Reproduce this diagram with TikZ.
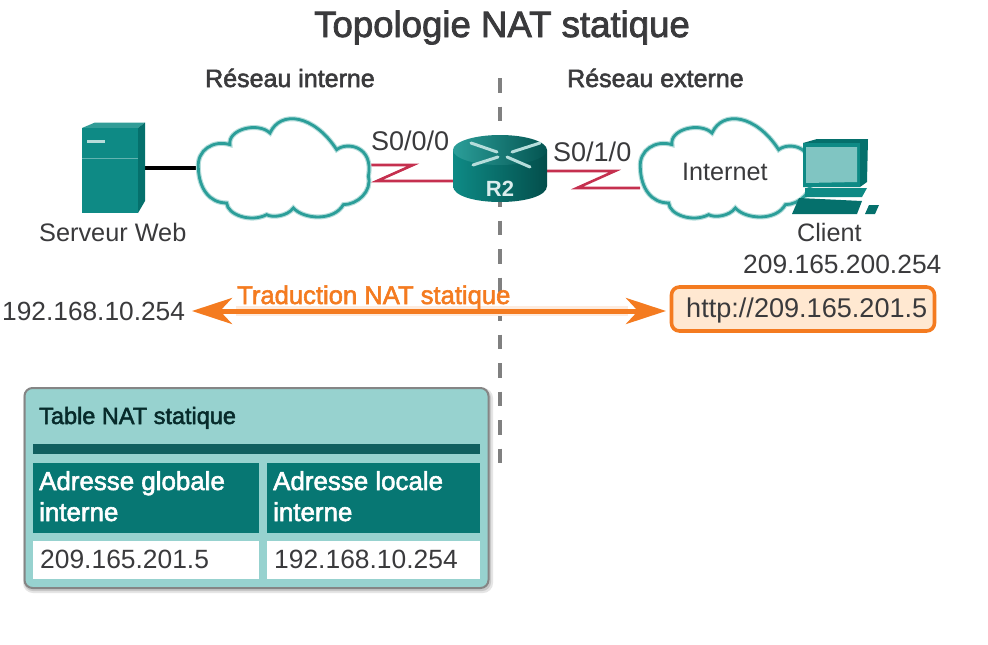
\documentclass[tikz,border=0pt]{standalone}
\usepackage{fontspec}
\setmainfont{Liberation Sans}
\newfontfamily\medf[FakeBold=2.2]{Liberation Sans}
\usetikzlibrary{arrows.meta}
\definecolor{ink}{HTML}{3A3A3C}
\definecolor{orng}{HTML}{F47B20}
\definecolor{tealA}{HTML}{0E8A85}
\definecolor{tealB}{HTML}{05706C}
\definecolor{tealC}{HTML}{2B9E99}
\definecolor{redl}{HTML}{C5304F}
\definecolor{tblbg}{HTML}{97D2CF}
\definecolor{tblbar}{HTML}{105F60}
\definecolor{tblhd}{HTML}{077773}
\tikzset{
  txt/.style={anchor=base west,inner sep=0pt,text=ink},
  fs/.style={font=\fontsize{#1}{#1}\selectfont},
  fm/.style={font=\medf\fontsize{#1}{#1}\selectfont},
  holder/.style={inner sep=0pt,outer sep=0pt,draw=none},
  serial/.style={draw=redl,line width=2.6pt,line join=miter},
  orarrow/.style={draw=orng,line width=5pt,{Stealth[length=40pt,width=26pt,inset=12pt]}-{Stealth[length=40pt,width=26pt,inset=12pt]},shorten <=0pt,shorten >=0pt},
  cloudpic/.pic={
    \def\cloudp{(-257,0) .. controls (-262,-55) and (-210,-85) .. (-162,-70)
      .. controls (-170,-115) and (-80,-140) .. (-42,-105)
      .. controls (-10,-175) and (90,-160) .. (158,-55)
      .. controls (190,-80) and (270,-65) .. (253,25)
      .. controls (265,70) and (220,110) .. (178,110)
      .. controls (150,160) and (60,155) .. (28,120)
      .. controls (10,145) and (-35,150) .. (-52,140)
      .. controls (-100,165) and (-170,140) .. (-172,105)
      .. controls (-225,105) and (-255,60) .. (-257,0) -- cycle}
    \draw[scale=1/3,line width=5pt,draw=tealC!35,fill=white] \cloudp;
    \draw[scale=1/3,line width=2.8pt,draw=tealC] \cloudp;
  },
}
\begin{document}
\begin{tikzpicture}[x=1pt,y=-1pt]
\useasboundingbox (0,0) rectangle (988,645);
\fill[white] (0,0) rectangle (988,645);

% divider
\coordinate (divtop) at (500,78);
\coordinate (divbot) at (500,466);
\draw[draw=black!50,line width=3.4pt,dash pattern=on 14.5pt off 14pt] (divtop) -- (divbot);

% title and section labels
\node[txt,fm=36.6] (title) at (314,37) {Topologie NAT statique};
\node[txt,fm=25] (rint) at (205,87) {Réseau interne};
\node[txt,fm=25] (rext) at (567,87) {Réseau externe};

% holders
\node[holder,minimum width=64pt,minimum height=90pt] (srv) at (113,168) {};
\node[holder,minimum width=172pt,minimum height=102pt] (cloudA) at (284,168) {};
\node[holder,minimum width=172pt,minimum height=102pt] (cloudB) at (726,168) {};
\node[holder,minimum width=94pt,minimum height=68pt] (r2) at (500,168) {};
\node[holder,minimum width=78pt,minimum height=76pt] (pc) at (838,175) {};

% connectors
\draw[black,line width=3.4pt] (srv) -- (cloudA);
\draw[serial] ([yshift=3pt]cloudA.east) -- ++(43,0) -- ++(-36,16) -- ([yshift=-13pt]r2.west);
\draw[serial] ([yshift=-3pt]r2.east) -- ++(68,0) -- ++(-38,17) -- ([yshift=-20pt]cloudB.west);

% clouds
\pic at (cloudA) {cloudpic};
\pic at (cloudB) {cloudpic};

% server
\fill[tealA!85!white] (82,128) -- (95,122.5) -- (145,122.5) -- (138,128) -- cycle;
\fill[tealB] (138,128) -- (145,122.5) -- (145,201) -- (138,213) -- cycle;
\fill[tealA] (82,128) rectangle (138,213);
\draw[white!35!tealA,line width=1pt] (82,158) -- (138,158);
\fill[tealA!30!white] (87,139.5) rectangle (105,143);

% router
\shade[left color=tealA,middle color=tealC,right color=tealB!70!black]
  (453,150) -- (453,186) .. controls (453,196) and (475,202) .. (500,202)
  .. controls (525,202) and (547,196) .. (547,186) -- (547,150) -- cycle;
\shade[left color=tealC,middle color=tealA,right color=tealB!75!black]
  (500,150) ellipse [x radius=47pt,y radius=15pt];
\draw[tealC!35!white,line width=3pt,line cap=round]
  (471,143) -- (497,152) (540,143) -- (512,152) (473,165) -- (498,157) (507,157) -- (530,167);
\node[holder,text=white!85!tealA,font=\bfseries\fontsize{22}{22}\selectfont,anchor=base] (r2lab) at (500,196) {R2};

% client
\fill[tealB] (803,143) -- (817,139) -- (868,139) -- (867,182) -- (860,187) -- (803,187) -- cycle;
\fill[tealA] (803,143) rectangle (860,187);
\fill[white!40!tealC] (806,147) -- (857,147) -- (857,182) -- (806,183) -- cycle;
\fill[tealA] (805,188) -- (867,188) -- (862,197) -- (805,197) -- cycle;
\fill[tealB] (799,198) -- (862,201) -- (857,214) -- (792,214) -- cycle;
\fill[tealB] (869,205) -- (879,205) -- (875,214) -- (865,214) -- cycle;

% device labels
\node[txt,fs=25.3] (lsrv) at (39,241) {Serveur Web};
\node[txt,fs=27] (l000) at (371,150) {S0/0/0};
\node[txt,fs=27] (l010) at (553,161) {S0/1/0};
\node[txt,fs=25.2] (linet) at (682,180) {Internet};
\node[txt,fs=25.2] (lcli) at (797,241) {Client};
\node[txt,fs=26.4] (lip) at (743,273) {209.165.200.254};

% translation row
\node[anchor=base west,inner sep=0pt,text=ink,fs=26.3] (src) at (2,320) {192.168.10.254};
\node[draw=orng,fill=orange!18!white,line width=3.6pt,rounded corners=8pt,minimum width=263pt,minimum height=44pt,inner sep=0pt] (http) at (803,309) {};
\node[txt,fs=27.1] (httpt) at (686,317) {http://209.165.201.5};
\draw[draw=orng!15!white,line width=10pt] (236,311) -- (628,311);
\coordinate (arrL) at (192,311);
\coordinate (arrR) at (666,311);
\draw[orarrow] (arrL) -- (arrR);
\node[anchor=base west,inner sep=0pt,text=orng,fm=25.6] (trad) at (237,304) {Traduction NAT statique};

% table
\fill[black!10,rounded corners=10pt] (23,388) rectangle (493,593);
\fill[black!22,rounded corners=9pt] (24,389) rectangle (491,591);
\draw[black!48,fill=tblbg,line width=2pt,rounded corners=8pt] (24.5,388) rectangle (488.5,588);
\node[txt,fm=23.5,text=tblbar!45!black] (ttitle) at (39,424) {Table NAT statique};
\fill[tblbar] (33,444) rectangle (480,454);
\node[holder,fill=tblhd,minimum width=226pt,minimum height=70pt] (h1) at (146,498) {};
\node[holder,fill=tblhd,minimum width=213pt,minimum height=70pt] (h2) at (373.5,498) {};
\node[holder,fill=white,minimum width=226pt,minimum height=38pt] (c1) at (146,560) {};
\node[holder,fill=white,minimum width=213pt,minimum height=38pt] (c2) at (373.5,560) {};
\node[txt,fm=25.9,text=white] (h1a) at (39,490) {Adresse globale};
\node[txt,fm=25.9,text=white] (h1b) at (39,521) {interne};
\node[txt,fm=25.9,text=white] (h2a) at (273,490) {Adresse locale};
\node[txt,fm=25.9,text=white] (h2b) at (273,521) {interne};
\node[txt,fs=26.4] (c1t) at (40,568) {209.165.201.5};
\node[txt,fs=26.4] (c2t) at (274,568) {192.168.10.254};
\end{tikzpicture}
\end{document}
